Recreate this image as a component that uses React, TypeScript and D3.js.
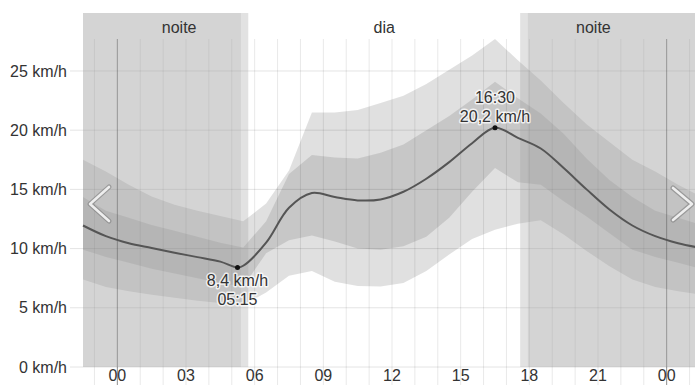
import React from 'react';
import * as d3 from 'd3';

// Hourly bins (value plotted at the middle of each hour)
const hourBins = [0, 1, 2, 3, 4, 5, 6, 7, 8, 9, 10, 11, 12, 13, 14, 15, 16, 17, 18, 19, 20, 21, 22, 23];

// Wind speed (km/h) per hourly bin
const median = [10.45, 10.05, 9.65, 9.28, 8.9, 8.55, 10.5, 13.45, 14.7, 14.35, 14.07, 14.15, 14.8, 15.9, 17.3, 18.9, 20.2, 19.35, 18.45, 16.8, 15.0, 13.3, 11.95, 11.05];
const innerHigh = [12.6, 12.0, 11.5, 11.0, 10.5, 10.1, 12.3, 16.3, 17.9, 17.7, 17.6, 18.1, 18.8, 20.0, 21.2, 22.6, 24.1, 22.7, 21.4, 19.7, 17.6, 15.8, 14.35, 13.2];
const innerLow = [8.8, 8.3, 7.9, 7.5, 7.1, 6.8, 9.6, 10.7, 11.1, 10.6, 10.0, 9.9, 10.2, 11.0, 12.6, 14.8, 16.8, 15.6, 15.4, 14.0, 12.7, 11.3, 9.9, 9.3];
const outerHigh = [15.4, 14.4, 13.7, 13.2, 12.75, 12.3, 13.8, 16.6, 21.5, 21.5, 21.7, 22.3, 22.9, 23.9, 25.1, 26.3, 27.7, 25.9, 24.2, 22.3, 20.5, 19.0, 17.5, 16.5];
const outerLow = [6.4, 6.1, 5.85, 5.6, 5.4, 5.2, 6.3, 7.7, 8.1, 7.2, 6.85, 6.8, 7.1, 8.1, 9.5, 10.8, 11.6, 12.1, 12.4, 11.2, 9.8, 8.5, 7.4, 6.75];

// Daily extremes (hour of day, km/h)
const minPoint = { hour: 5.25, value: 8.4 };
const maxPoint = { hour: 16.5, value: 20.2 };

// Twilight / daylight limits (hour of day)
const nightEnd = 5.4;
const sunrise = 5.72;
const sunset = 17.6;
const nightStart = 17.93;

// Visible time window (hours relative to midnight)
const viewStart = -1.5;
const viewEnd = 25.5;

const xTicks = [0, 3, 6, 9, 12, 15, 18, 21, 24];
const yTicks = [0, 5, 10, 15, 20, 25];

const W = 695;
const H = 385;
const FONT = '"Liberation Sans", Arial, sans-serif';

const pad2 = (n: number) => String(n).padStart(2, '0');
const fmtTime = (h: number) => `${pad2(Math.floor(h) % 24)}:${pad2(Math.round((h % 1) * 60))}`;
const fmtSpeed = (v: number) => `${v.toFixed(1).replace('.', ',')} km/h`;

type Pt = { t: number; bin: number };

// Wrap the daily cycle across the visible window
const points: Pt[] = d3
  .range(Math.floor(viewStart), Math.ceil(viewEnd))
  .map((i) => ({ t: i + 0.5, bin: hourBins[(i + 24) % 24] }))
  .filter((p) => p.t >= viewStart && p.t <= viewEnd);

export default function App() {
  const x = d3.scaleLinear().domain([viewStart, viewEnd]).range([83, 701]);
  const y = d3.scaleLinear().domain([0, d3.max(outerHigh) as number]).range([367, 39]);

  const band = (lo: number[], hi: number[]) =>
    d3
      .area<Pt>()
      .x((d) => x(d.t))
      .y0((d) => y(lo[d.bin]))
      .y1((d) => y(hi[d.bin]))
      .curve(d3.curveLinear)(points) as string;

  const linePts: [number, number][] = points.map((p) => [p.t, median[p.bin]]);
  linePts.push([minPoint.hour, minPoint.value]);
  linePts.sort((a, b) => a[0] - b[0]);
  const linePath = d3
    .line<[number, number]>()
    .x((d) => x(d[0]))
    .y((d) => y(d[1]))
    .curve(d3.curveCatmullRom.alpha(0.5))(linePts) as string;

  const hourLines = d3.range(Math.ceil(viewStart), Math.floor(viewEnd) + 1);

  const phases = [
    { label: 'noite', at: (0 + nightEnd) / 2 },
    { label: 'dia', at: (sunrise + sunset) / 2 },
    { label: 'noite', at: (sunset + 24) / 2 },
  ];

  const halo = {
    stroke: '#ffffff',
    strokeWidth: 3,
    strokeOpacity: 0.75,
    paintOrder: 'stroke' as const,
    strokeLinejoin: 'round' as const,
  };

  const xMin = x(minPoint.hour);
  const yMin = y(minPoint.value);
  const xMax = x(maxPoint.hour);
  const yMax = y(maxPoint.value);

  const night = 'rgba(160,160,160,0.45)';
  const twilight = 'rgba(160,160,160,0.3)';

  return (
    <svg
      width={W}
      height={H}
      style={{ position: 'absolute', left: 0, top: 0, display: 'block' }}
      fontFamily={FONT}
      fontSize={16}
    >
      <rect width={W} height={H} fill="#ffffff" />

      {/* horizontal grid */}
      {yTicks.map((v) => (
        <line key={`gy${v}`} x1={70} x2={W} y1={y(v)} y2={y(v)} stroke="#e4e4e4" strokeWidth={1} />
      ))}

      {/* hourly grid, midnight emphasised */}
      {hourLines.map((h) => (
        <line
          key={`gx${h}`}
          x1={x(h)}
          x2={x(h)}
          y1={39}
          y2={H}
          stroke={h % 24 === 0 ? 'rgba(0,0,0,0.45)' : 'rgba(0,0,0,0.09)'}
          strokeWidth={1}
        />
      ))}

      {/* percentile bands */}
      <path d={band(outerLow, outerHigh)} fill="rgba(0,0,0,0.12)" />
      <path d={band(innerLow, innerHigh)} fill="rgba(0,0,0,0.11)" />

      {/* night and twilight shading */}
      <rect x={x(viewStart)} y={13} width={x(nightEnd) - x(viewStart)} height={367 - 13} fill={night} />
      <rect x={x(nightEnd)} y={13} width={x(sunrise) - x(nightEnd)} height={367 - 13} fill={twilight} />
      <rect x={x(sunset)} y={13} width={x(nightStart) - x(sunset)} height={367 - 13} fill={twilight} />
      <rect x={x(nightStart)} y={13} width={x(viewEnd) - x(nightStart)} height={367 - 13} fill={night} />

      {phases.map((p, i) => (
        <text key={`ph${i}`} x={x(p.at)} y={33} textAnchor="middle" fill="#333">
          {p.label}
        </text>
      ))}

      {/* median line */}
      <path d={linePath} fill="none" stroke="#555555" strokeWidth={2} />

      {/* extremes */}
      <circle cx={xMin} cy={yMin} r={2.5} fill="#111" />
      <circle cx={xMax} cy={yMax} r={2.5} fill="#111" />
      <text x={xMin} y={yMin + 18} textAnchor="middle" fill="#333" {...halo}>
        {fmtSpeed(minPoint.value)}
      </text>
      <text x={xMin} y={yMin + 37} textAnchor="middle" fill="#333" {...halo}>
        {fmtTime(minPoint.hour)}
      </text>
      <text x={xMax} y={yMax - 25} textAnchor="middle" fill="#333" {...halo}>
        {fmtTime(maxPoint.hour)}
      </text>
      <text x={xMax} y={yMax - 6} textAnchor="middle" fill="#333" {...halo}>
        {fmtSpeed(maxPoint.value)}
      </text>

      {/* axes labels */}
      {yTicks.map((v) => (
        <text key={`ly${v}`} x={67} y={y(v)} dy="0.35em" textAnchor="end" fill="#333">
          {`${v} km/h`}
        </text>
      ))}
      {xTicks.map((h) => (
        <text key={`lx${h}`} x={x(h)} y={381} textAnchor="middle" fill="#333">
          {pad2(h % 24)}
        </text>
      ))}

      {/* navigation chevrons */}
      <g fill="none" strokeLinecap="round" strokeLinejoin="round">
        <polyline points="109,187 90,204 109,221" stroke="rgba(120,120,120,0.55)" strokeWidth={5} />
        <polyline points="109,187 90,204 109,221" stroke="#eeeeee" strokeWidth={2.6} />
        <polyline points="673,188 692,204 673,220" stroke="rgba(120,120,120,0.55)" strokeWidth={5} />
        <polyline points="673,188 692,204 673,220" stroke="#eeeeee" strokeWidth={2.6} />
      </g>
    </svg>
  );
}
